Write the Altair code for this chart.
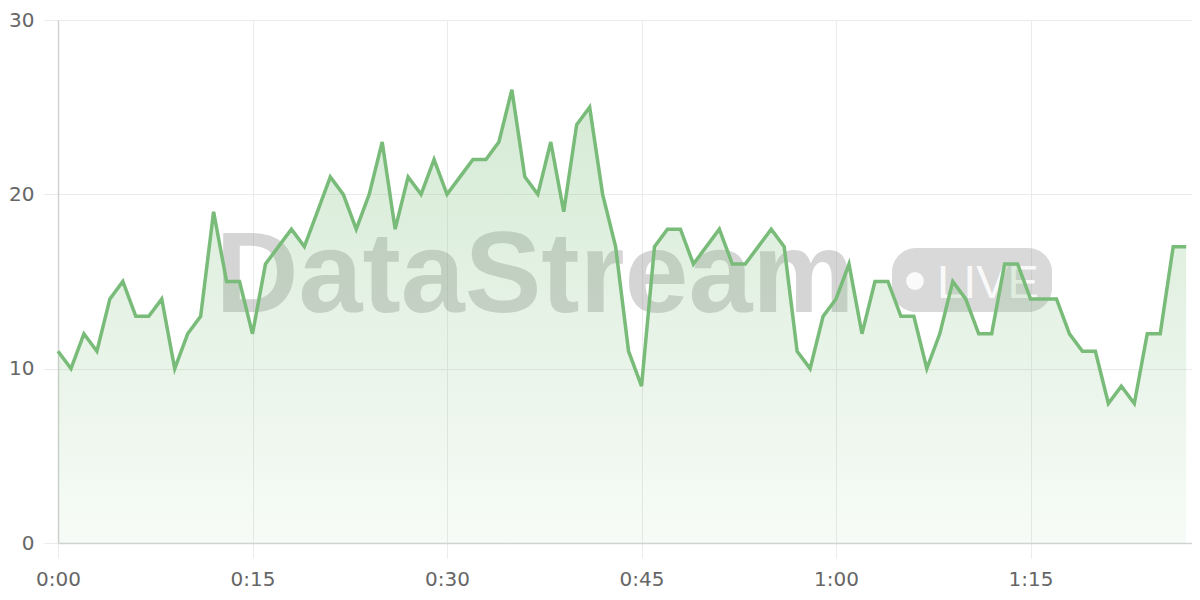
import altair as alt
import pandas as pd

minutes = list(range(88))
values = [11, 10, 12, 11, 14, 15, 13, 13, 14, 10,
          12, 13, 19, 15, 15, 12, 16, 17, 18, 17,
          19, 21, 20, 18, 20, 23, 18, 21, 20, 22,
          20, 21, 22, 22, 23, 26, 21, 20, 23, 19,
          24, 25, 20, 17, 11, 9, 17, 18, 18, 16,
          17, 18, 16, 16, 17, 18, 17, 11, 10, 13,
          14, 16, 12, 15, 15, 13, 13, 10, 12, 15,
          14, 12, 12, 16, 16, 14, 14, 14, 12, 11,
          11, 8, 9, 8, 12, 12, 17, 17]
x_ticks = [0, 15, 30, 45, 60, 75]
y_ticks = [0, 10, 20, 30]
watermark = "DataStream"
badge = "LIVE"

df = pd.DataFrame({"minute": minutes, "value": values})
one = pd.DataFrame({"k": [0]})

W, H = 1134, 523
FONT = "DejaVu Sans"
WFONT = "Liberation Sans"

x_enc = alt.X("minute:Q",
              scale=alt.Scale(domain=[0, 87.45], nice=False, zero=False),
              axis=alt.Axis(values=x_ticks, title=None, labelFlush=False,
                            labelExpr="floor(datum.value/60) + ':' + (datum.value % 60 < 10 ? '0' : '') + (datum.value % 60)",
                            labelPadding=11, tickSize=15))
y_enc = alt.Y("value:Q",
              scale=alt.Scale(domain=[0, 30], nice=False),
              axis=alt.Axis(values=y_ticks, title=None, labelPadding=9, tickSize=15))

wm_text = alt.Chart(one).mark_text(
    text=watermark, font=WFONT, fontSize=115, fontWeight="bold",
    fill="#808080", opacity=0.32, align="center", baseline="alphabetic"
).encode(x=alt.value(477), y=alt.value(292))

wm_rect = alt.Chart(one).mark_rect(
    fill="#808080", opacity=0.3, cornerRadius=24
).encode(x=alt.value(834), x2=alt.value(994), y=alt.value(228), y2=alt.value(292))

wm_dot = alt.Chart(one).mark_point(
    shape="circle", filled=True, fill="#ffffff", opacity=0.85, size=320
).encode(x=alt.value(857), y=alt.value(261))

wm_live = alt.Chart(one).mark_text(
    text=badge, font=WFONT, fontSize=47, fill="#ffffff", opacity=0.85,
    align="center", baseline="alphabetic"
).encode(x=alt.value(930), y=alt.value(278))

area = alt.Chart(df).mark_area(
    interpolate="linear",
    color=alt.Gradient(
        gradient="linear",
        stops=[alt.GradientStop(color="rgba(122,189,122,0.32)", offset=0),
               alt.GradientStop(color="rgba(122,189,122,0.06)", offset=1)],
        x1=1, x2=1, y1=0, y2=1,
    ),
).encode(x=x_enc, y=y_enc)

line = alt.Chart(df).mark_line(
    color="#79bb79", strokeWidth=3.5, interpolate="linear", strokeJoin="miter"
).encode(x=x_enc, y=y_enc)

chart = alt.layer(wm_rect, wm_dot, wm_live, wm_text, area, line).properties(
    width=W, height=H,
    autosize=alt.AutoSizeParams(type="none"),
    padding={"left": 50, "top": 12, "right": 0, "bottom": 46},
).configure_view(stroke=None).configure_axis(
    gridColor="#ebebeb", gridWidth=1,
    tickColor="#ebebeb", tickWidth=1,
    domainColor="#d2d2d2", domainWidth=1.5,
    labelFont=FONT, labelFontSize=20, labelColor="#666666",
)

chart.save("out.html", embed_options={"renderer": "svg", "actions": False})
